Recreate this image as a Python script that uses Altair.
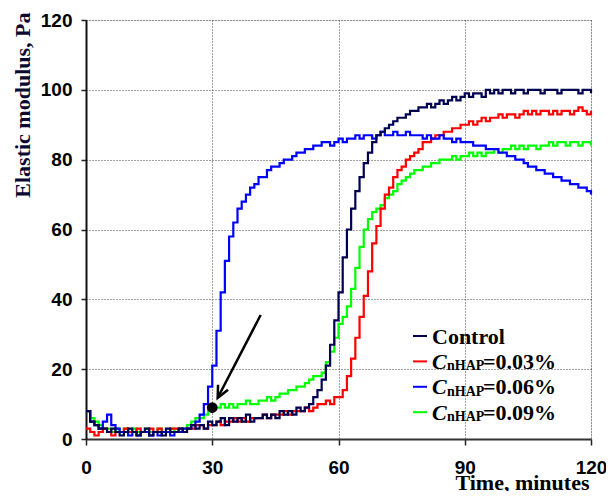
import altair as alt
import pandas as pd

# ---------------- data ----------------
time_min = list(range(0, 121))

control = [8, 5, 4, 3, 3, 2, 3, 2, 1, 2, 3,
           2, 1, 2, 3, 1, 2, 2, 1, 3, 2,
           2, 3, 2, 3, 4, 3, 4, 3, 5, 4,
           5, 6, 4, 6, 5, 6, 5, 7, 5, 6,
           6, 7, 6, 7, 6, 8, 7, 8, 7, 9,
           8, 9, 10, 12, 14, 17, 21, 27, 34, 42,
           52, 60, 66, 71, 75, 79, 82, 85, 87, 88,
           89, 90, 91, 92, 92, 93, 94, 94, 95, 95,
           96, 95, 96, 97, 96, 97, 98, 97, 98, 99,
           98, 99, 99, 98, 100, 99, 100, 99, 100, 100,
           99, 100, 100, 99, 100, 100, 100, 99, 100, 100,
           100, 99, 100, 100, 100, 100, 99, 100, 100, 99]

c_003 = [3, 2, 1, 2, 3, 2, 1, 2, 2, 3, 2,
         2, 3, 2, 2, 3, 2, 3, 2, 2, 3,
         3, 3, 2, 3, 3, 4, 4, 3, 4, 4,
         5, 4, 5, 5, 6, 5, 6, 5, 6, 6,
         6, 7, 6, 7, 7, 7, 8, 7, 8, 8,
         8, 9, 8, 9, 10, 10, 11, 10, 12, 12,
         14, 18, 23, 29, 35, 41, 48, 56, 61, 66,
         70, 72, 75, 77, 78, 80, 81, 82, 83, 85,
         85, 86, 87, 87, 88, 88, 89, 89, 90, 90,
         91, 90, 91, 92, 91, 92, 92, 93, 92, 93,
         93, 92, 93, 94, 93, 94, 93, 94, 94, 93,
         94, 93, 94, 94, 93, 94, 95, 94, 93, 94]

c_006 = [8, 5, 4, 3, 5, 7, 4, 3, 2, 2, 1,
         2, 1, 2, 2, 1, 2, 1, 2, 2, 1,
         2, 2, 3, 3, 4, 5, 7, 10, 15, 21,
         31, 42, 51, 58, 62, 66, 68, 70, 72, 73,
         75, 75, 77, 78, 78, 79, 80, 80, 81, 82,
         82, 83, 83, 84, 84, 85, 85, 84, 85, 86,
         85, 86, 86, 87, 86, 87, 87, 86, 87, 88,
         87, 87, 88, 87, 87, 88, 87, 87, 87, 86,
         87, 86, 86, 87, 86, 86, 85, 86, 85, 85,
         85, 84, 84, 84, 83, 83, 83, 82, 82, 81,
         81, 80, 80, 79, 78, 78, 77, 77, 76, 76,
         75, 75, 74, 74, 73, 73, 72, 72, 71, 70]

c_009 = [8, 6, 5, 4, 3, 3, 2, 3, 2, 3, 2,
         3, 2, 2, 3, 2, 2, 3, 2, 2, 3,
         2, 3, 3, 4, 5, 6, 6, 7, 8, 9,
         9, 10, 9, 10, 9, 10, 10, 11, 10, 10,
         11, 11, 12, 11, 12, 13, 13, 14, 14, 15,
         15, 16, 17, 18, 18, 19, 22, 25, 29, 33,
         35, 38, 43, 49, 55, 60, 63, 65, 66, 67,
         69, 70, 71, 73, 74, 75, 76, 77, 77, 78,
         78, 79, 79, 80, 80, 80, 81, 80, 81, 81,
         82, 81, 82, 81, 82, 82, 83, 82, 83, 83,
         84, 83, 84, 83, 84, 84, 83, 84, 84, 85,
         84, 85, 85, 84, 85, 85, 84, 85, 85, 84]

series_names = ["Control", "CnHAP=0.03%", "CnHAP=0.06%", "CnHAP=0.09%"]
series_values = [control, c_003, c_006, c_009]
series_colors = ["#000050", "#ff0000", "#0000ff", "#00ff00"]
legend_conc = ["=0.03%", "=0.06%", "=0.09%"]

x_ticks = [0, 30, 60, 90, 120]
y_ticks = [0, 20, 40, 60, 80, 100, 120]

marker_t = [30]
marker_v = [9]
arrow_from = [41.5, 35.5]
arrow_to = [31.3, 11.8]

# ---------------- chart ----------------
W, H = 505, 419

xscale = alt.Scale(domain=[0, 120], nice=False, zero=False)
yscale = alt.Scale(domain=[0, 120], nice=False)

x_axis = alt.Axis(values=x_ticks, title="Time, minutes", grid=True,
                  titleFont="Liberation Serif", titleFontSize=22, titleFontWeight="bold",
                  titleColor="#000", titleAlign="right", titleBaseline="alphabetic",
                  titleX=W - 2, titleY=50, titleAngle=0,
                  labelFont="Liberation Sans", labelFontSize=19, labelFontWeight="bold",
                  labelColor="#000", labelPadding=13, labelFlush=False, labelOverlap=False,
                  tickSize=6, tickColor="#222", tickWidth=1.5,
                  domainColor="#333", domainWidth=2,
                  gridColor="#444", gridDash=[1, 2], gridWidth=1)
y_axis = alt.Axis(values=y_ticks, title="Elastic modulus, Pa", grid=True,
                  titleFont="Liberation Serif", titleFontSize=22, titleFontWeight="bold",
                  titleColor="#0a0a30", titleAngle=270, titleAlign="right",
                  titleBaseline="middle", titleX=-64, titleY=-8,
                  labelFont="Liberation Sans", labelFontSize=19, labelFontWeight="bold",
                  labelColor="#000", labelPadding=9, labelFlush=False, labelOverlap=False,
                  tickSize=5, tickColor="#222", tickWidth=1.5,
                  domainColor="#111", domainWidth=2,
                  gridColor="#444", gridDash=[1, 2], gridWidth=1)


def X(field="t"):
    return alt.X(f"{field}:Q", scale=xscale, axis=x_axis)


def Y(field="v"):
    return alt.Y(f"{field}:Q", scale=yscale, axis=y_axis)


layers = []
draw_order = [3, 1, 2, 0]
for i in draw_order:
    df = pd.DataFrame({"t": time_min, "v": series_values[i]})
    layers.append(
        alt.Chart(df).mark_line(interpolate="step-after", strokeWidth=2.2,
                                color=series_colors[i])
        .encode(x=X(), y=Y())
    )

# arrow
arrow_df = pd.DataFrame({"t": [arrow_from[0]], "v": [arrow_from[1]],
                         "t2": [arrow_to[0]], "v2": [arrow_to[1]]})
layers.append(
    alt.Chart(arrow_df).mark_rule(color="#000", strokeWidth=2.5)
    .encode(x=X(), y=Y(), x2="t2:Q", y2="v2:Q")
)
head_df = pd.DataFrame({"t": [arrow_to[0]], "v": [arrow_to[1]]})
layers.append(
    alt.Chart(head_df).mark_point(shape="M -0.55 1.15 L 0 0 L 0.55 1.15", filled=False,
                                  stroke="#000", strokeWidth=2.5, size=420, angle=207,
                                  opacity=1)
    .encode(x=X(), y=Y())
)
dot_df = pd.DataFrame({"t": marker_t, "v": marker_v})
layers.append(
    alt.Chart(dot_df).mark_circle(color="#000", size=115, opacity=1)
    .encode(x=X(), y=Y())
)

# custom legend (plot-area pixel coordinates)
legend_top = 316
legend_step = 25.4
sw_x0, sw_x1 = 327, 341
txt_x = 346
for r in range(4):
    ry = legend_top + r * legend_step
    one = pd.DataFrame({"label": [series_names[r]]})
    layers.append(
        alt.Chart(one).mark_rule(color=series_colors[r], strokeWidth=2)
        .encode(x=alt.value(sw_x0), x2=alt.value(sw_x1), y=alt.value(ry))
    )
    if r == 0:
        layers.append(
            alt.Chart(one).mark_text(align="left", baseline="alphabetic",
                                     font="Liberation Serif", fontSize=22,
                                     fontWeight="bold", color="#000")
            .encode(x=alt.value(txt_x), y=alt.value(ry + 7.5), text="label:N")
        )
    else:
        parts = pd.DataFrame({"c": ["C"], "sub": ["nHAP"], "val": [legend_conc[r - 1]]})
        layers.append(
            alt.Chart(parts).mark_text(align="left", baseline="alphabetic",
                                       font="Liberation Serif", fontSize=22,
                                       fontWeight="bold", fontStyle="italic", color="#000")
            .encode(x=alt.value(txt_x), y=alt.value(ry + 7.5), text="c:N")
        )
        layers.append(
            alt.Chart(parts).mark_text(align="left", baseline="alphabetic",
                                       font="Liberation Serif", fontSize=14,
                                       fontWeight="bold", color="#000")
            .encode(x=alt.value(txt_x + 15), y=alt.value(ry + 9), text="sub:N")
        )
        layers.append(
            alt.Chart(parts).mark_text(align="left", baseline="alphabetic",
                                       font="Liberation Serif", fontSize=22,
                                       fontWeight="bold", color="#000")
            .encode(x=alt.value(txt_x + 51), y=alt.value(ry + 7.5), text="val:N")
        )

chart = (
    alt.layer(*layers)
    .properties(width=W, height=H,
                padding={"left": 78, "top": 12, "right": 598 - 78 - W, "bottom": 52},
                autosize=alt.AutoSizeParams(type="none"))
    .configure_view(stroke="#333", strokeWidth=2)
    .configure(background="white")
)

chart.save("out.html", embed_options={"renderer": "svg", "actions": False})
